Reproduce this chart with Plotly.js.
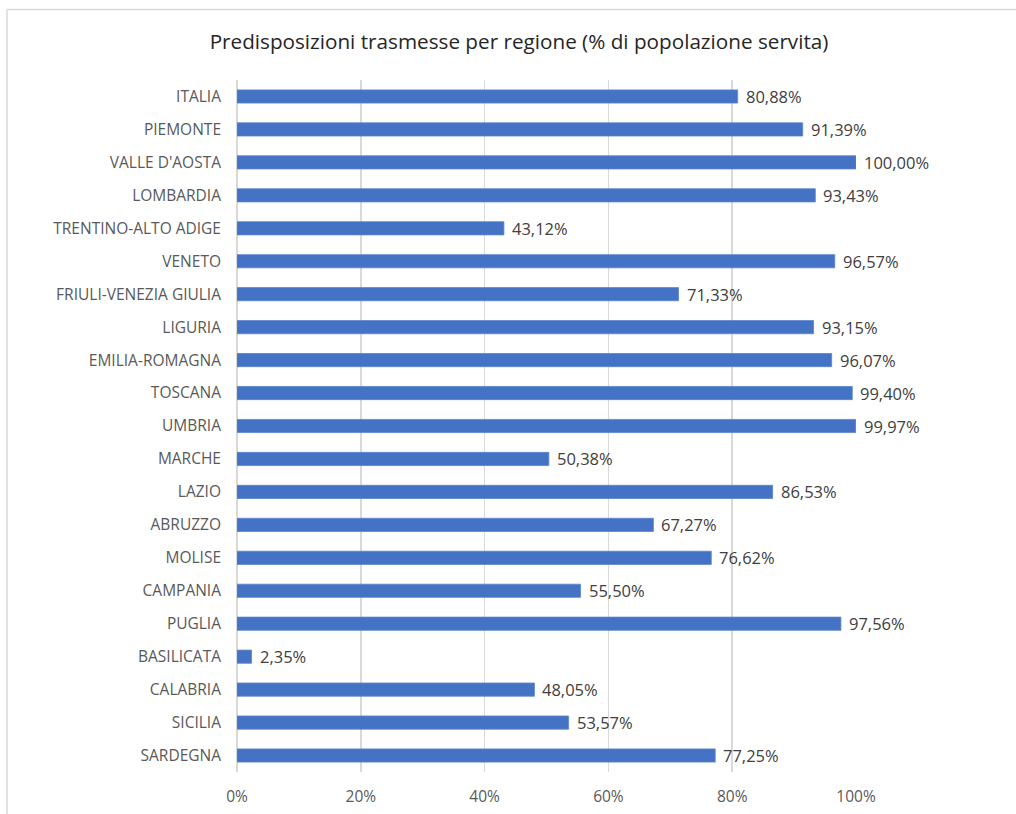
<!DOCTYPE html>
<html>
<head>
<meta charset="utf-8">
<script src="https://cdn.plot.ly/plotly-3.0.1.min.js"></script>
<style>
html,body{margin:0;padding:0;background:#fff;}
#chart{width:1016px;height:814px;}
</style>
</head>
<body>
<div id="chart"></div>
<script>
const regions = ["ITALIA","PIEMONTE","VALLE D'AOSTA","LOMBARDIA","TRENTINO-ALTO ADIGE","VENETO","FRIULI-VENEZIA GIULIA","LIGURIA","EMILIA-ROMAGNA","TOSCANA","UMBRIA","MARCHE","LAZIO","ABRUZZO","MOLISE","CAMPANIA","PUGLIA","BASILICATA","CALABRIA","SICILIA","SARDEGNA"];
const values = [80.88,91.39,100.00,93.43,43.12,96.57,71.33,93.15,96.07,99.40,99.97,50.38,86.53,67.27,76.62,55.50,97.56,2.35,48.05,53.57,77.25];
const xTickVals = [0,20,40,60,80,100];
const xTickText = ["0%","20%","40%","60%","80%","100%"];

const fmt = v => v.toFixed(2).replace('.', ',') + '%';

const W = 1016, H = 814;
const L = 237, R = 160, T = 79.5, B = 41.5;
const pw = W - L - R, ph = H - T - B;
const px = x => (x - L) / pw;
const py = y => (H - B - y) / ph;

const trace = {
  type: 'bar',
  orientation: 'h',
  x: values,
  y: regions,
  marker: {color: '#4472C4', line: {color: '#5b84cc', width: 0.8}},
  hoverinfo: 'none',
  cliponaxis: false
};

const annotations = values.map((v, i) => ({
  x: v, y: regions[i], xref: 'x', yref: 'y',
  text: fmt(v), showarrow: false, xanchor: 'left', yanchor: 'middle',
  xshift: 6, font: {family: 'Open Sans, sans-serif', size: 16.5, color: '#404040'}
}));

const layout = {
  width: W, height: H,
  margin: {l: L, r: R, t: T, b: B, pad: 0},
  paper_bgcolor: '#fff', plot_bgcolor: '#fff',
  showlegend: false,
  bargap: 0.6,
  title: {
    text: 'Predisposizioni trasmesse per regione (% di popolazione servita)',
    font: {family: 'Open Sans, sans-serif', size: 20.7, color: '#262626'},
    x: 519 / W, xref: 'container', xanchor: 'center',
    y: 1 - 42 / H, yref: 'container', yanchor: 'middle'
  },
  xaxis: {
    range: [0, 100], fixedrange: true,
    tickvals: xTickVals, ticktext: xTickText,
    showgrid: true, gridcolor: '#d9d9d9', gridwidth: 1.5,
    zeroline: true, zerolinecolor: '#d9d9d9', zerolinewidth: 1.5,
    showline: false, ticks: '',
    ticklabelstandoff: 13,
    tickfont: {family: 'Open Sans, sans-serif', size: 15.5, color: '#595959'}
  },
  yaxis: {
    type: 'category', autorange: 'reversed', fixedrange: true,
    categoryorder: 'array', categoryarray: regions,
    showgrid: false, zeroline: false, showline: false, ticks: '',
    ticklabelstandoff: 15,
    tickfont: {family: 'Open Sans, sans-serif', size: 15.5, color: '#595959'}
  },
  annotations: annotations,
  shapes: [
    {type: 'line', xref: 'paper', yref: 'paper', x0: px(7), x1: px(1020), y0: py(9), y1: py(9), line: {color: '#d9d9d9', width: 1.5}},
    {type: 'line', xref: 'paper', yref: 'paper', x0: px(7), x1: px(7), y0: py(9), y1: py(820), line: {color: '#d9d9d9', width: 1.5}}
  ]
};

Plotly.newPlot('chart', [trace], layout, {displayModeBar: false, staticPlot: true});
</script>
</body>
</html>
